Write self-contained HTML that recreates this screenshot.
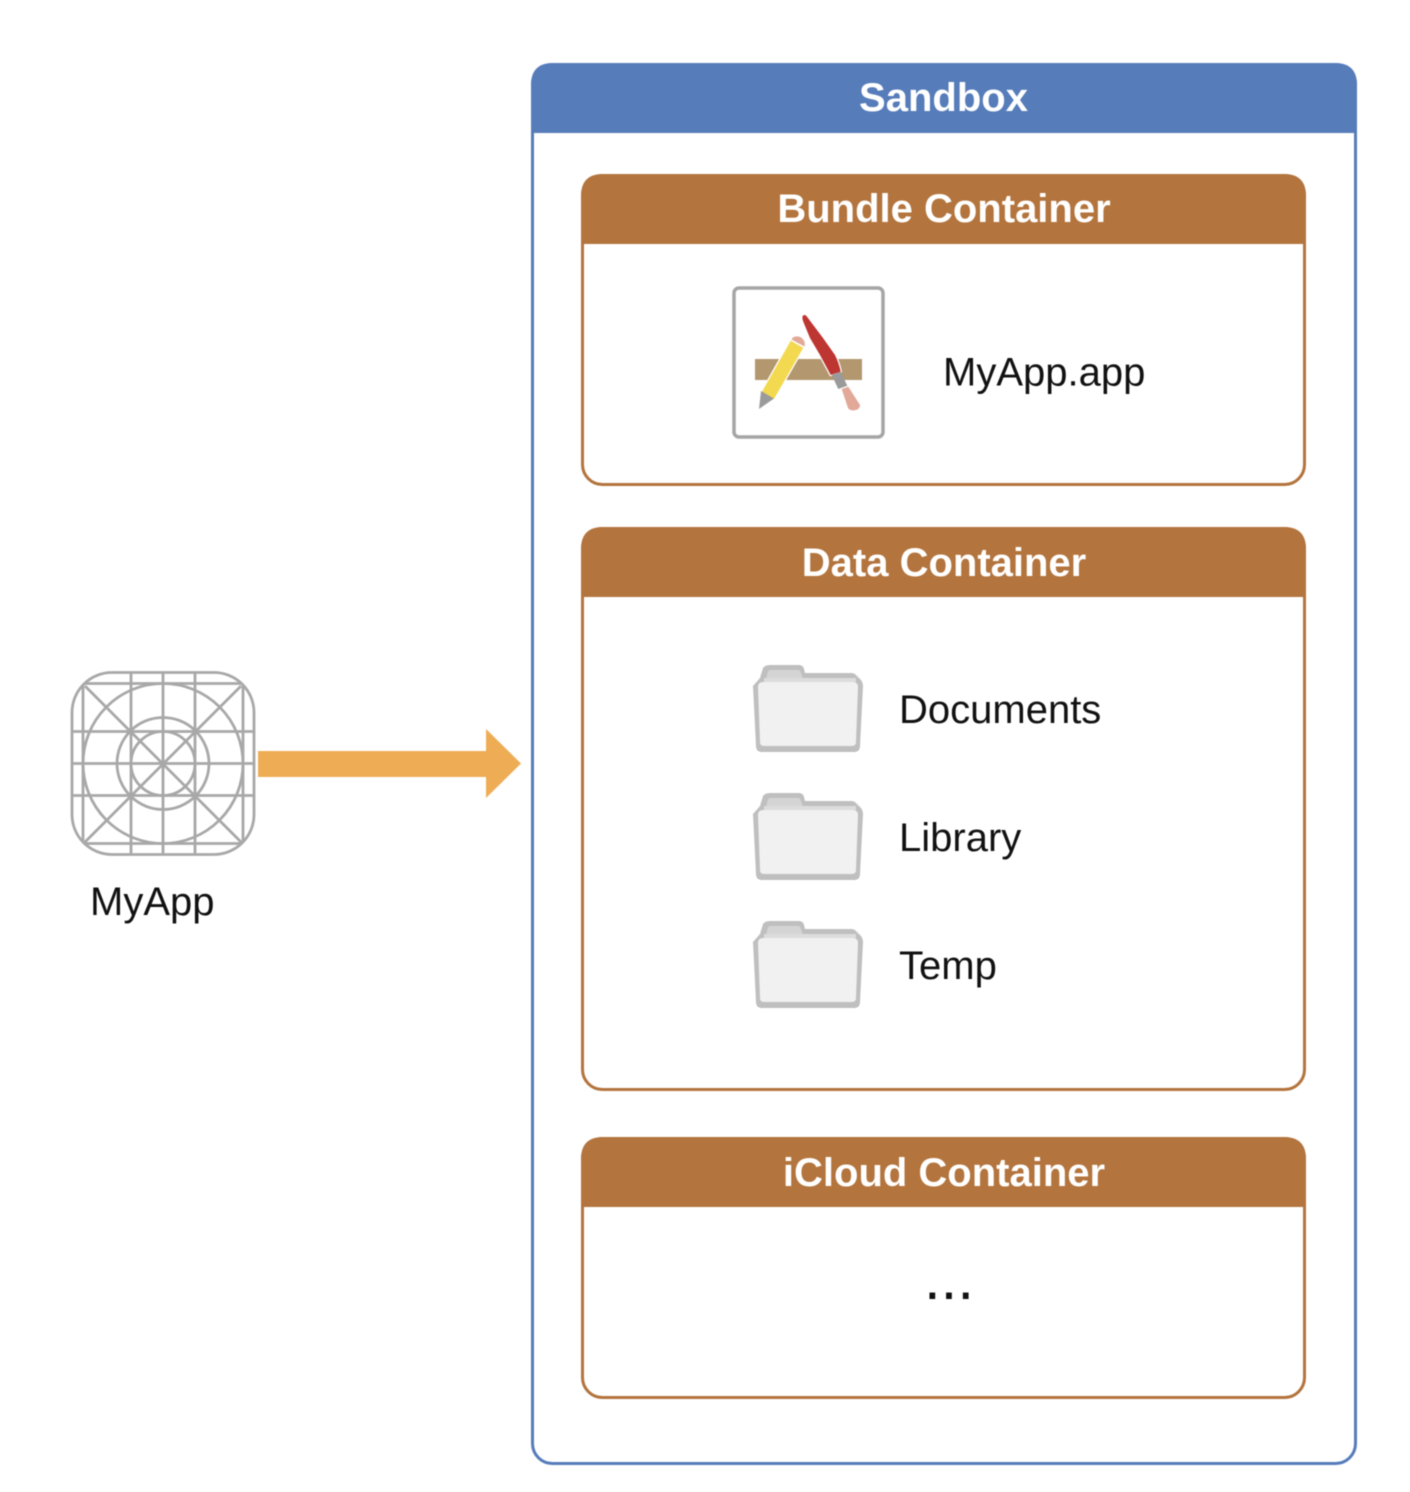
<!DOCTYPE html>
<html>
<head>
<meta charset="utf-8">
<style>
html,body{margin:0;padding:0;background:#fff;width:1410px;height:1492px;overflow:hidden}
svg{display:block;filter:blur(0.6px)}
text{font-family:"Liberation Sans",sans-serif;font-size:40px;fill:#111}
.h{font-weight:bold;fill:#fff;text-anchor:middle}
</style>
</head>
<body>
<svg width="1410" height="1492" viewBox="0 0 1410 1492" xmlns="http://www.w3.org/2000/svg">
<defs>
<g id="folder">
  <path d="M753 686 L760 678 L763 668 Q765 665 770 665 L799 665 Q803 665 804 669 L805 673 L851 673 Q854 673 856 675 L861 680 Q863 683 863 686 L860 746 Q860 752 854 752 L762 752 Q756 752 756 746 Z" fill="#bfbfbf"/>
  <path d="M766 679 L768 671 Q769 670 771 670 L799 670 Q800 670 801 673 L803 679 Z" fill="#d4d4d4"/>
  <rect x="764" y="678" width="92" height="4" fill="#dcdcdc"/>
  <path d="M758 687 Q758 682 763 682 H853 Q858 682 858 687 L856 742 Q856 746 852 746 H764 Q760 746 760 742 Z" fill="#f1f1f1"/>
</g>
</defs>

<!-- Sandbox -->
<rect x="532.500" y="64.500" width="823" height="1399" rx="20" fill="#fff" stroke="#567cba" stroke-width="3"/>
<path d="M531 133 V85 Q531 63 553 63 H1335 Q1357 63 1357 85 V133 Z" fill="#567cba"/>
<text class="h" x="943.500" y="111">Sandbox</text>

<!-- Bundle -->
<rect x="582.500" y="175.500" width="722" height="309" rx="20" fill="#fff" stroke="#b3743d" stroke-width="3"/>
<path d="M581 244 V196 Q581 174 603 174 H1284 Q1306 174 1306 196 V244 Z" fill="#b3743d"/>
<text class="h" x="944" y="222">Bundle Container</text>

<!-- Data -->
<rect x="582.500" y="528.500" width="722" height="561" rx="20" fill="#fff" stroke="#b3743d" stroke-width="3"/>
<path d="M581 597 V549 Q581 527 603 527 H1284 Q1306 527 1306 549 V597 Z" fill="#b3743d"/>
<text class="h" x="944" y="576">Data Container</text>

<!-- iCloud -->
<rect x="582.500" y="1138.500" width="722" height="259" rx="20" fill="#fff" stroke="#b3743d" stroke-width="3"/>
<path d="M581 1207 V1159 Q581 1137 603 1137 H1284 Q1306 1137 1306 1159 V1207 Z" fill="#b3743d"/>
<text class="h" x="944" y="1186">iCloud Container</text>

<!-- App icon -->
<rect x="734" y="288" width="149" height="149" rx="5" fill="#fff" stroke="#a5a5a5" stroke-width="3.500"/>
<rect x="755" y="359" width="107" height="21" fill="#b2976f"/>
<g stroke="#fff" stroke-width="2.500" stroke-linejoin="round" paint-order="stroke">
  <path d="M790.700 340.700 L803.300 347.700 L774 399 L761.700 392.300 Z" fill="#f3d94f"/>
  <path d="M803.300 321.700 Q801 316 804 315 Q806 315 807 316.700 L823 338 L835 355 Q839 363 840.700 371.700 L830.700 375 L820 355 L810 338 Z" fill="#bd3631"/>
  <path d="M831.700 375 L840.700 371.700 L847.300 385.700 L838.300 389 Z" fill="#9a9a9a" stroke="none"/>
  <path d="M841.700 389 L848.300 386.700 L860 405 Q860 410 853 410.500 Q849 410 848 408 Z" fill="#e2a898" stroke="none"/>
</g>
<path d="M761 391 L774 398.500 L759 409 Z" fill="#9a9a9a"/>
<path d="M791.500 339.500 Q794 335 800 337 Q806 340 804.500 346.500 Z" fill="#e2a898"/>
<text x="943" y="385.500">MyApp.app</text>

<!-- Folders -->
<use href="#folder"/>
<use href="#folder" y="128"/>
<use href="#folder" y="256"/>
<text x="899" y="723">Documents</text>
<text x="899" y="851">Library</text>
<text x="899" y="979">Temp</text>
<text x="924" y="1299" style="font-size:60px;font-weight:normal;letter-spacing:0px">...</text>

<!-- Grid icon -->
<g fill="none" stroke="#a8a8a8" stroke-width="2.800">
  <rect x="72" y="672.500" width="182" height="182" rx="40"/>
  <circle cx="163" cy="763.500" r="80"/>
  <circle cx="163" cy="763.500" r="46"/>
  <circle cx="163" cy="763.500" r="32"/>
  <path d="M131 673 V854 M163 673 V854 M195 673 V854 M83 686 V841 M243 686 V841"/>
  <path d="M72 731.500 H254 M72 763.500 H254 M72 795.500 H254 M85 683.500 H241 M85 843.500 H241"/>
  <path d="M85 686 L241 842 M241 686 L85 842"/>
</g>
<text x="90" y="915">MyApp</text>

<!-- Arrow -->
<path d="M258 751 H486 V729 L521 763.500 L486 798 V777 H258 Z" fill="#eeac55"/>
</svg>
</body>
</html>
